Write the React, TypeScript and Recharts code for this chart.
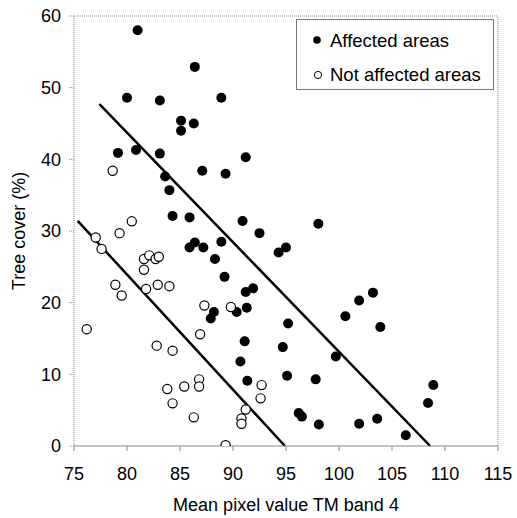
import { ScatterChart, Scatter, XAxis, YAxis, ReferenceLine, Legend, Label } from 'recharts';

// Affected areas (filled dots)
const affectedX = [
  81.0, 86.4, 80.0, 83.1, 88.9, 85.1, 86.3, 85.1, 79.15, 80.85, 83.1, 91.2, 87.1, 89.3,
  83.6, 84.0, 84.3, 85.9, 90.9, 92.5, 86.4, 85.9, 87.2, 88.9, 88.3, 89.2, 91.2, 91.9,
  98.05, 94.3, 95.0, 101.9, 103.2, 88.2, 87.9, 90.35, 91.3, 91.1, 90.7, 91.35, 100.6,
  103.9, 95.2, 94.7, 99.7, 95.1, 97.8, 108.9, 108.4, 96.2, 96.5, 98.1, 101.9, 103.6, 106.3,
];
const affectedY = [
  58.0, 52.9, 48.6, 48.2, 48.6, 45.4, 45.0, 44.0, 40.9, 41.3, 40.8, 40.3, 38.4, 38.0,
  37.6, 35.7, 32.1, 31.9, 31.4, 29.7, 28.4, 27.7, 27.7, 28.5, 26.1, 23.6, 21.5, 22.0,
  31.0, 27.0, 27.7, 20.3, 21.4, 18.7, 17.8, 18.7, 19.3, 14.6, 11.8, 9.1, 18.1,
  16.6, 17.1, 13.8, 12.5, 9.8, 9.3, 8.5, 6.0, 4.6, 4.1, 3.0, 3.1, 3.8, 1.5,
];

// Not affected areas (open circles)
const notAffectedX = [
  78.65, 80.45, 79.3, 77.05, 77.6, 81.6, 82.1, 82.7, 83.0, 81.6, 78.9, 79.5, 81.8, 82.9,
  84.0, 87.3, 89.8, 76.2, 86.9, 82.8, 84.3, 86.8, 86.8, 85.4, 83.8, 84.3, 86.3, 89.3,
  90.8, 90.8, 91.2, 92.7, 92.6,
];
const notAffectedY = [
  38.4, 31.35, 29.7, 29.1, 27.5, 26.1, 26.6, 26.1, 26.4, 24.6, 22.5, 21.0, 21.9, 22.5,
  22.3, 19.6, 19.4, 16.3, 15.6, 14.0, 13.3, 9.3, 8.3, 8.3, 7.95, 5.95, 4.0, 0.1,
  3.85, 3.1, 5.1, 8.5, 6.65,
];

// regression line end points
const affectedFit = [{ x: 77.4, y: 47.7 }, { x: 108.6, y: 0 }];
const notAffectedFit = [{ x: 75.35, y: 31.4 }, { x: 94.9, y: 0 }];

const xTicks = [75, 80, 85, 90, 95, 100, 105, 110, 115];
const yTicks = [0, 10, 20, 30, 40, 50, 60];

const affected = affectedX.map((x, i) => ({ x, y: affectedY[i] }));
const notAffected = notAffectedX.map((x, i) => ({ x, y: notAffectedY[i] }));

const FONT = 'Arial, "Liberation Sans", sans-serif';

const FilledDot = (props: any) => <circle cx={props.cx} cy={props.cy} r={5} fill="#000" />;
const OpenDot = (props: any) => (
  <circle cx={props.cx} cy={props.cy} r={4.6} fill="#fff" stroke="#000" strokeWidth={1.2} />
);

const LegendBox = () => (
  <div
    style={{
      width: 198,
      height: 71,
      boxSizing: 'border-box',
      border: '1px solid #777',
      background: '#fff',
      position: 'relative',
    }}
  >
    <svg width={198} height={71} style={{ position: 'absolute', left: 0, top: 0 }}>
      <circle cx={20} cy={20} r={3.8} fill="#000" />
      <circle cx={21} cy={55} r={3.6} fill="#fff" stroke="#000" strokeWidth={1} />
      <text x={33} y={27} fontSize={18.5} fontFamily={FONT}>Affected areas</text>
      <text x={33} y={61} fontSize={18.5} fontFamily={FONT}>Not affected areas</text>
    </svg>
  </div>
);

export default function App() {
  return (
    <div style={{ position: 'absolute', left: 0, top: 0, background: '#fff' }}>
      <ScatterChart width={517} height={518} margin={{ top: 16, right: 19, bottom: 0, left: 0 }}>
        <XAxis
          type="number"
          dataKey="x"
          domain={[75, 115]}
          ticks={xTicks}
          allowDataOverflow
          height={72}
          stroke="#888"
          tickSize={5}
          tickMargin={16}
          tick={{ fill: '#000', fontSize: 18, fontFamily: FONT }}
        >
          <Label
            content={() => (
              <text x={286} y={511} textAnchor="middle" fontSize={18} fontFamily={FONT} fill="#000">
                Mean pixel value TM band 4
              </text>
            )}
          />
        </XAxis>
        <YAxis
          type="number"
          dataKey="y"
          domain={[0, 60]}
          ticks={yTicks}
          allowDataOverflow
          width={74}
          stroke="#888"
          strokeDasharray="1 1"
          tickSize={5}
          tickMargin={8}
          tick={{ fill: '#000', fontSize: 18, fontFamily: FONT }}
        >
          <Label
            content={() => (
              <text
                x={19}
                y={231}
                textAnchor="middle"
                dominantBaseline="central"
                transform="rotate(-90, 19, 231)"
                fontSize={18}
                fontFamily={FONT}
                fill="#000"
              >
                Tree cover (%)
              </text>
            )}
          />
        </YAxis>
        <ReferenceLine y={60} stroke="#888" strokeDasharray="1 1" />
        <ReferenceLine x={115} stroke="#888" strokeDasharray="1 1" />
        <ReferenceLine segment={affectedFit} stroke="#000" strokeWidth={2.5} />
        <ReferenceLine segment={notAffectedFit} stroke="#000" strokeWidth={2.5} />
        <Scatter data={affected} shape={FilledDot} isAnimationActive={false} />
        <Scatter data={notAffected} shape={OpenDot} isAnimationActive={false} />
        <Legend
          layout="vertical"
          align="center"
          verticalAlign="middle"
          content={LegendBox}
          wrapperStyle={{ left: 296, top: 19, width: 198, height: 71 }}
        />
      </ScatterChart>
    </div>
  );
}
